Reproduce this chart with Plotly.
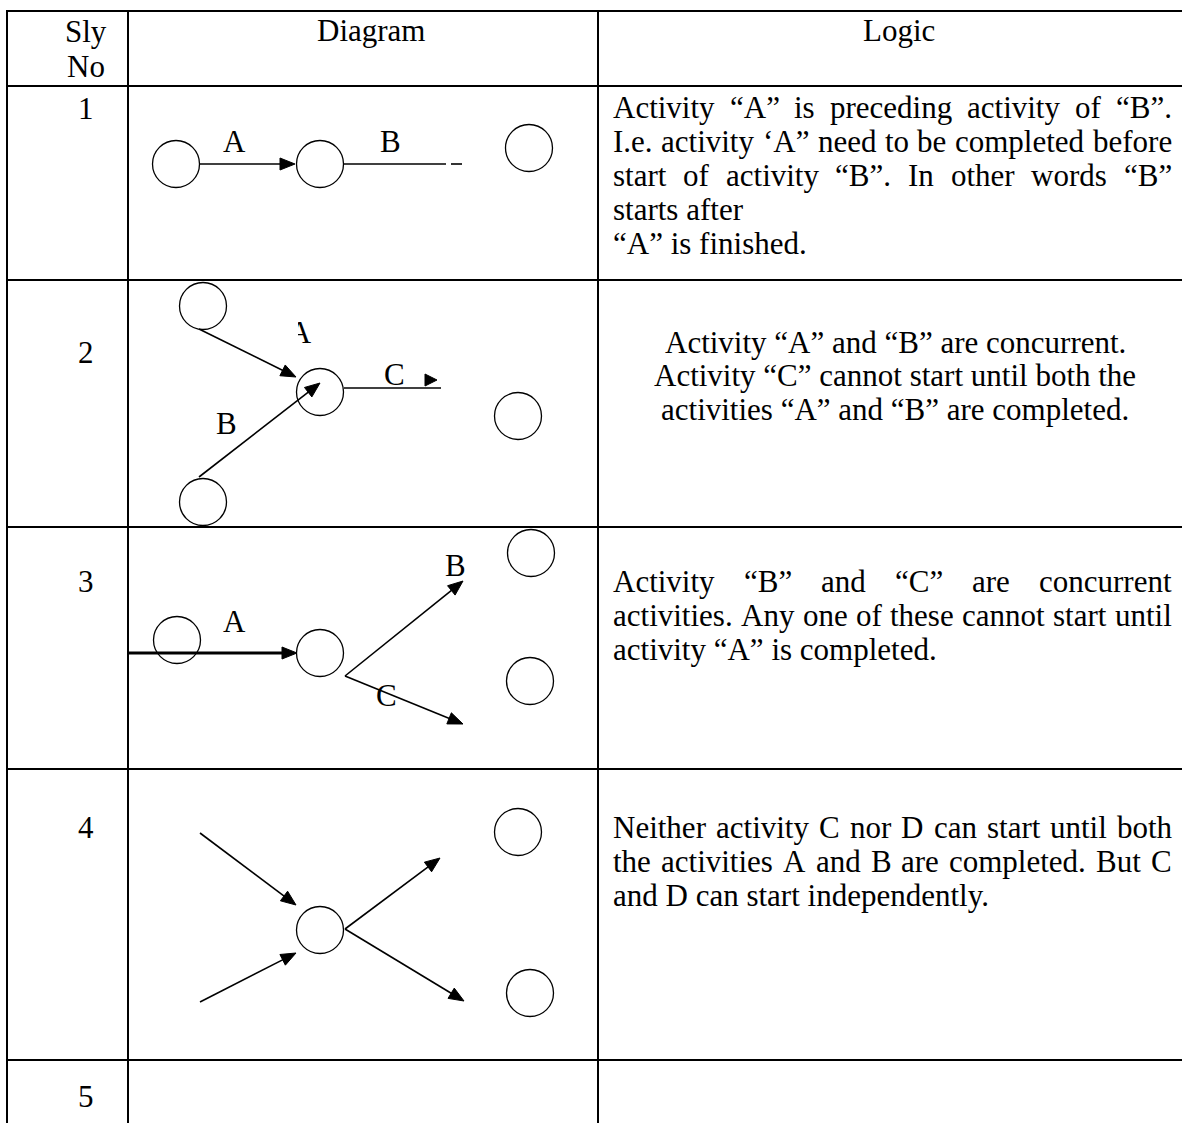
import math
import plotly.graph_objects as go

W, H = 1182, 1123
FONT = "Liberation Serif"
FS = 31

# ---- table text ----
header = ["Sly", "No", "Diagram", "Logic"]
row_numbers = ["1", "2", "3", "4", "5"]
row_number_y = [108, 352, 581, 827, 1096]

logic_text = [
    ["Activity “A” is preceding activity of “B”.",
     "I.e. activity ‘A” need to be completed before",
     "start of activity “B”. In other words “B”",
     "starts after",
     "“A” is finished."],
    ["Activity “A” and “B” are concurrent.",
     "Activity “C” cannot start until both the",
     "activities “A” and “B” are completed."],
    ["Activity “B” and “C” are concurrent",
     "activities. Any one of these cannot start until",
     "activity “A” is completed."],
    ["Neither activity C nor D can start until both",
     "the activities A and B are completed. But C",
     "and D can start independently."],
]
logic_y = [[107, 141, 175, 209, 243], [342, 375, 409], [581, 615, 649], [827, 861, 895]]
logic_align = [["j", "j", "j", "l", "l"], ["c", "c", "c"], ["j", "j", "l"], ["j", "j", "l"]]

# ---- network diagrams (event nodes, activities) ----
node_x = [176, 320, 529,            # row 1
          203, 320, 518, 203,       # row 2
          177, 320, 531, 530,       # row 3
          320, 518, 530]            # row 4
node_y = [164, 164, 148,
          306, 392, 416, 502,
          640, 653, 553, 681,
          930, 832, 993]

# activity arrows: start x, start y, tip x, tip y
arrow_x0 = [200, 199, 199, 345, 345, 200, 200, 345, 345]
arrow_y0 = [164, 329, 477, 676, 676, 833, 1002, 929, 929]
arrow_x1 = [295, 296, 320, 463, 463, 296, 296, 440, 464]
arrow_y1 = [164, 377, 383, 581, 724, 905, 953, 858, 1001]

# heavy arrow A of row 3
thick_x = [129, 297]
thick_y = [653, 653]

# unfinished activity lines (no head)
plain_x0 = [344, 451, 344]
plain_x1 = [446, 462, 441]
plain_y = [164, 164, 388]

activity_labels = ["A", "B", "B", "C", "A", "B", "C"]
label_x = [234, 390, 226, 394, 234, 455, 386]
label_y = [141, 141, 423, 374, 621, 565, 695]

# the half-printed "A" of row 2
cut_label = "A"
cut_x, cut_y = 300, 335

col_lines = [7, 128, 598]
row_lines = [11, 86, 280, 527, 769, 1060]

WIDTHS = {" ": 250, ".": 250, ",": 250, "‘": 333, "’": 333, "“": 444, "”": 444,
          "A": 722, "B": 667, "C": 667, "D": 722, "I": 333, "N": 722,
          "a": 444, "b": 500, "c": 444, "d": 500, "e": 444, "f": 333, "g": 500,
          "h": 500, "i": 278, "k": 500, "l": 278, "m": 778, "n": 500, "o": 500,
          "p": 500, "r": 333, "s": 389, "t": 278, "u": 500, "v": 500, "w": 722,
          "y": 500}


def text_width(s):
    return sum(WIDTHS.get(ch, 500) for ch in s) / 1000 * FS


def head(x0, y0, x1, y1, length=15, half=6):
    d = math.hypot(x1 - x0, y1 - y0)
    ux, uy = (x1 - x0) / d, (y1 - y0) / d
    bx, by = x1 - length * ux, y1 - length * uy
    nx, ny = -uy, ux
    return [x1, bx + half * nx, bx - half * nx, x1], [y1, by + half * ny, by - half * ny, y1], (bx + ux, by + uy)


fig = go.Figure()

# event circles
fig.add_trace(go.Scatter(
    x=node_x, y=node_y, mode="markers",
    marker=dict(symbol="circle-open", size=47, color="black", line=dict(width=1.3)),
    hoverinfo="skip",
))

# arrow shafts + heads
sx, sy, hx, hy = [], [], [], []
for x0, y0, x1, y1 in zip(arrow_x0, arrow_y0, arrow_x1, arrow_y1):
    px, py, base = head(x0, y0, x1, y1)
    sx += [x0, base[0], None]
    sy += [y0, base[1], None]
    hx += px + [None]
    hy += py + [None]
for x0, x1, y in zip(plain_x0, plain_x1, plain_y):
    sx += [x0, x1, None]
    sy += [y, y, None]
# tiny head sitting at the end of row 2 activity C
px, py, _ = head(plain_x1[2] - 16, plain_y[2] - 8, plain_x1[2] - 4, plain_y[2] - 8, length=12, half=6)
hx += px + [None]
hy += py + [None]

fig.add_trace(go.Scatter(x=sx, y=sy, mode="lines", line=dict(color="black", width=1.6),
                         hoverinfo="skip"))
px, py, base = head(thick_x[0], thick_y[0], thick_x[1], thick_y[1])
fig.add_trace(go.Scatter(x=[thick_x[0], base[0]], y=[thick_y[0], base[1]], mode="lines",
                         line=dict(color="black", width=3), hoverinfo="skip"))
hx += px + [None]
hy += py + [None]
fig.add_trace(go.Scatter(x=hx, y=hy, mode="lines", fill="toself", fillcolor="black",
                         line=dict(color="black", width=1), hoverinfo="skip"))

# half-printed label (drawn as trace so the mask shape can hide its left part)
fig.add_trace(go.Scatter(x=[cut_x], y=[cut_y], mode="text", text=[cut_label],
                         textposition="middle center",
                         textfont=dict(family=FONT, size=FS, color="black"), hoverinfo="skip"))

shapes = []
for x in col_lines:
    shapes.append(dict(type="line", x0=x, x1=x, y0=row_lines[0] - 1, y1=H,
                       line=dict(color="black", width=2)))
for y in row_lines:
    shapes.append(dict(type="line", x0=col_lines[0] - 1, x1=W, y0=y, y1=y,
                       line=dict(color="black", width=2)))
shapes.append(dict(type="rect", x0=cut_x - 16, x1=cut_x - 2, y0=cut_y - 14, y1=cut_y + 13,
                   fillcolor="white", line=dict(width=0), layer="above"))

ann = []


def put(txt, x, y, anchor="center"):
    ann.append(dict(text=txt, x=x, y=y, xref="x", yref="y", showarrow=False,
                    xanchor=anchor, yanchor="middle", borderpad=0, borderwidth=0,
                    font=dict(family=FONT, size=FS, color="black")))


put(header[0], 86, 31)
put(header[1], 86, 66)
put(header[2], 371, 30)
put(header[3], 899, 30)

for t, y in zip(row_numbers, row_number_y):
    put(t, 86, y)

for t, x, y in zip(activity_labels, label_x, label_y):
    put(t, x, y)

# logic column: justified lines are laid out word by word
LEFT, RIGHT, MID = 613, 1172, 895
for lines, ys, aligns in zip(logic_text, logic_y, logic_align):
    for line, y, a in zip(lines, ys, aligns):
        if a == "c":
            put(line, MID, y)
        elif a == "l":
            put(line, LEFT, y, "left")
        else:
            words = line.split()
            used = sum(text_width(w) for w in words)
            gap = (RIGHT - LEFT - used) / (len(words) - 1)
            x = LEFT
            for w in words:
                put(w, x, y, "left")
                x += text_width(w) + gap

fig.update_layout(
    width=W, height=H,
    margin=dict(l=0, r=0, t=0, b=0),
    paper_bgcolor="white", plot_bgcolor="white",
    showlegend=False,
    xaxis=dict(range=[0, W], visible=False, fixedrange=True),
    yaxis=dict(range=[H, 0], visible=False, fixedrange=True),
    shapes=shapes,
    annotations=ann,
)

fig.write_html("out.html", config={"displayModeBar": False},
               post_script="document.body.style.margin='0px';")
